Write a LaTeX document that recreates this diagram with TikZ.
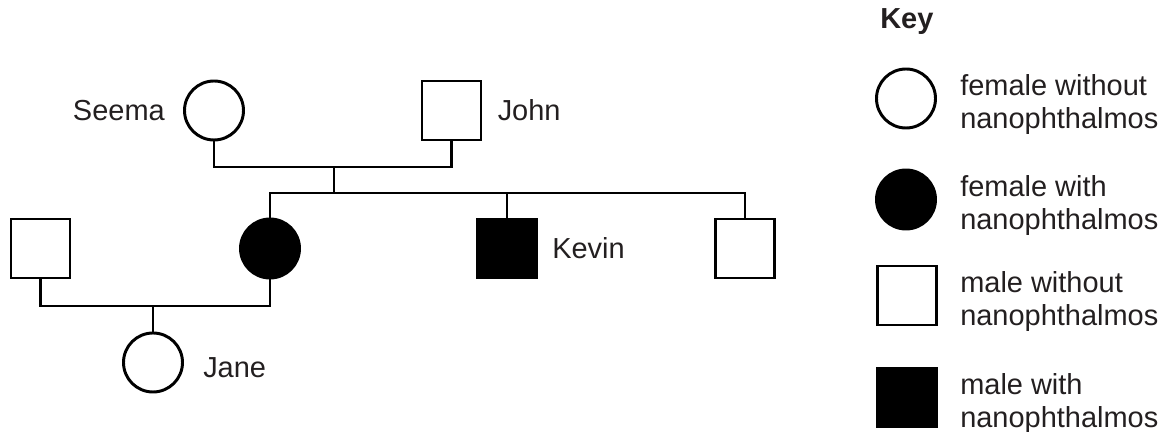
\documentclass[tikz,border=0pt]{standalone}
\usepackage{fontspec}
\setmainfont{Liberation Sans}
\usepackage{xcolor}
\usepackage{tikz}
\usetikzlibrary{positioning}
\definecolor{ink}{RGB}{35,31,32}
\tikzset{
    female/.style={circle, draw, line width=2.1pt, minimum size=1.475cm, inner sep=0pt, fill=white},
    male/.style={rectangle, draw, line width=2.1pt, minimum size=1.475cm, inner sep=0pt, fill=white},
    affected/.style={fill=black},
    link/.style={line width=2.1pt},
    nametag/.style={inner sep=0pt, text=ink, font=\fontsize{20.6}{23.8}\selectfont},
    keytext/.style={anchor=west, align=left, inner sep=0pt, text=ink, font=\fontsize{20.6}{23.8}\selectfont}
}

\begin{document}
\begin{tikzpicture} [
    node distance=0.4cm,
    keyhead/.style={anchor=west, inner sep=0pt, text=ink, font=\fontsize{20.6}{23.8}\selectfont\bfseries}
]
    \useasboundingbox (0,0) rectangle (29.225,10.8);

    % Parents
    \node[female] (seema) at (5.35,8.0375) {};
    \node[male] (john) at (11.2875,8.0375) {};
    \node[nametag, left=0.45cm of seema] (seemaname) {Seema};
    \node[nametag, right=0.375cm of john] (johnname) {John};

    % Children and partner
    \node[male] (husband) at (1.0125,4.5875) {};
    \node[female, affected] (daughter) at (6.75,4.5875) {};
    \node[male, affected] (kevin) at (12.675,4.5875) {};
    \node[male] (son) at (18.625,4.5875) {};
    \node[nametag, right=0.35cm of kevin] (kevinname) {Kevin};

    % Grandchild
    \node[female] (jane) at (3.825,1.7375) {};
    \node[nametag, right=0.475cm of jane, yshift=-0.125cm] (janename) {Jane};

    % Lines
    \coordinate (union1) at (8.35,6.625);
    \coordinate (sibs) at (8.35,5.975);
    \coordinate (union2) at (3.825,3.15);
    \draw[link] (seema) |- (union1) -| (john);
    \draw[link] (union1) -- (sibs);
    \draw[link] (daughter) |- (sibs) -| (son);
    \draw[link] (kevin) -- (kevin |- sibs);
    \draw[link] (husband) |- (union2) -| (daughter);
    \draw[link] (union2) -- (jane);

    % Key
    \node[keyhead] (keytitle) at (22.0,10.26) {Key};
    \node[female] (kf1) at (22.65,8.3375) {};
    \node[female, affected] (kf2) at (22.65,5.8125) {};
    \node[male] (km1) at (22.675,3.4125) {};
    \node[male, affected] (km2) at (22.675,0.8625) {};
    \node[keytext] (kt1) at (24.0,8.1875) {female without\\nanophthalmos};
    \node[keytext] (kt2) at (24.0,5.6625) {female with\\nanophthalmos};
    \node[keytext] (kt3) at (24.0,3.2625) {male without\\nanophthalmos};
    \node[keytext] (kt4) at (24.0,0.7125) {male with\\nanophthalmos};
\end{tikzpicture}
\end{document}
